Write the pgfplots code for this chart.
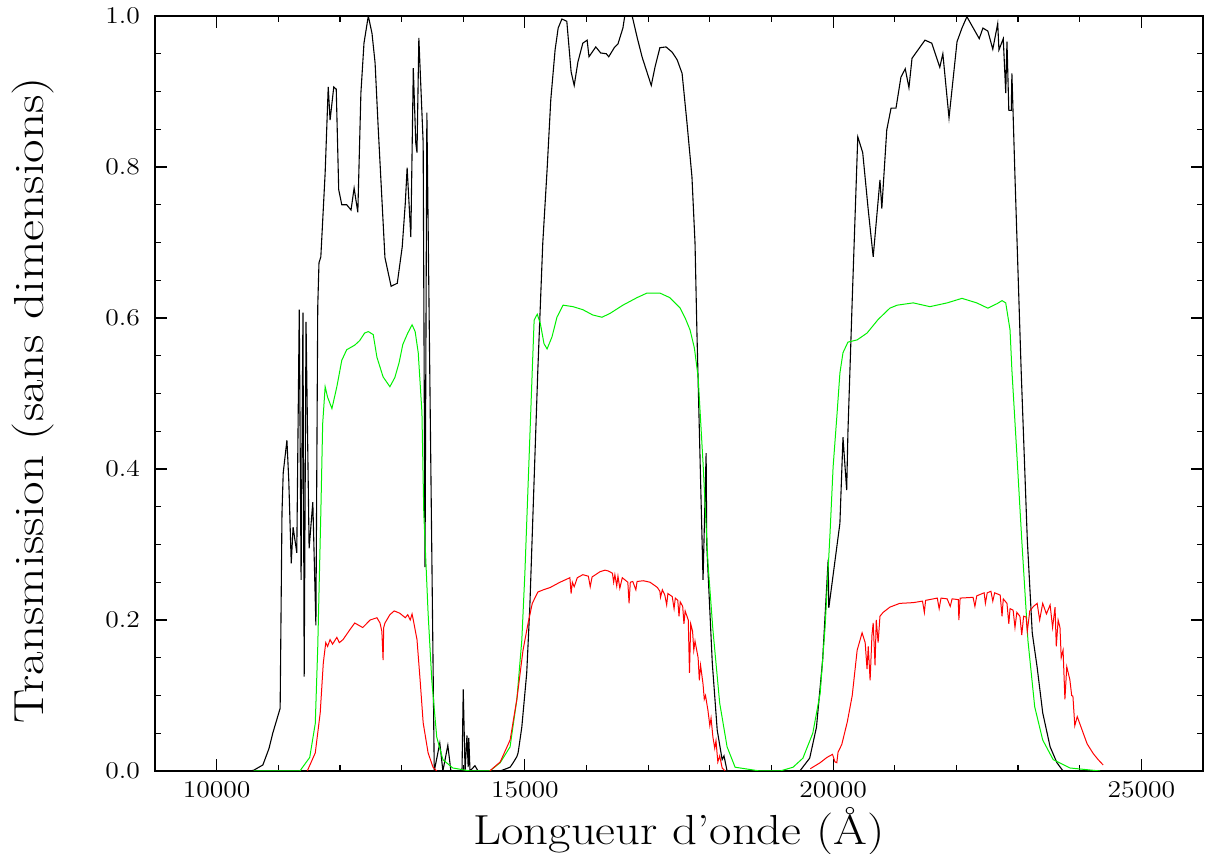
\documentclass[border=0pt]{standalone}
\usepackage{graphicx}
\usepackage{pgfplots}
\pgfplotsset{compat=1.18}
\definecolor{cgreen}{RGB}{0,240,0}
\definecolor{cred}{RGB}{255,0,0}
\begin{document}
\begin{tikzpicture}
\begin{axis}[
  scale only axis, width=524pt, height=377.5pt,
  xmin=9000, xmax=26000, ymin=0, ymax=1,
  xtick={10000,15000,20000,25000}, minor x tick num=4,
  ytick={0,0.2,0.4,0.6,0.8,1.0}, minor y tick num=3,
  scaled x ticks=false, scaled y ticks=false,
  tick align=inside, major tick length=6pt, minor tick length=3pt,
  axis line style={line width=0.75pt},
  every tick/.style={black, line width=0.6pt},
  tick label style={font=\fontsize{11.5}{13}\selectfont},
  xticklabel={\scalebox{1.15}[1]{$\pgfmathprintnumber[1000 sep={}]{\tick}$}},
  yticklabel={\scalebox{1.15}[1]{$\pgfmathprintnumber[fixed,fixed zerofill,precision=1]{\tick}$}},
  xticklabel style={yshift=-2pt},
  yticklabel style={xshift=-4pt},
  label style={font=\fontsize{21}{24}\selectfont},
  xlabel={\scalebox{1.16}[1]{Longueur d'onde (\AA)}},
  ylabel={\scalebox{1.22}[1]{Transmission (sans dimensions)}},
  xlabel style={at={(axis description cs:0.5,-0.0795)}, anchor=center},
  ylabel style={at={(axis description cs:-0.1164,0.491)}, anchor=center},
  clip=true,
]
\coordinate (SW) at (rel axis cs:0,0);
\coordinate (NE) at (rel axis cs:1,1);
% atmospheric transmission (black)
\addplot[black, line width=0.55pt] coordinates {
(10540,0) (10600,0.001) (10750,0.008) (10850,0.03) (10910,0.05) (11030,0.083) (11060,0.342) (11080,0.395) (11140,0.438) (11170,0.385) (11210,0.275) (11240,0.323) (11300,0.289) (11340,0.611) (11370,0.253) (11400,0.607) (11420,0.125) (11450,0.595) (11500,0.295) (11560,0.356) (11610,0.193) (11640,0.615) (11660,0.673) (11690,0.681) (11760,0.792) (11810,0.906) (11840,0.862) (11900,0.906) (11940,0.903) (11980,0.770) (12030,0.750) (12110,0.750) (12180,0.743) (12230,0.772) (12290,0.740) (12340,0.898) (12390,0.964) (12460,1.0) (12520,0.977) (12570,0.938) (12620,0.853) (12730,0.680) (12830,0.642) (12930,0.646) (13010,0.694) (13060,0.752) (13090,0.799) (13150,0.707) (13190,0.931) (13230,0.832) (13250,0.819) (13280,0.971) (13350,0.832) (13380,0.270) (13410,0.872) (13530,0)
(13620,0.037) (13670,0) (13750,0.034) (13800,0) (13980,0) (14000,0.108) (14030,0) (14060,0.047) (14080,0.005) (14090,0.044) (14110,0) (14190,0.007) (14240,0)
(14600,0) (14760,0.005) (14810,0.011) (14870,0.019) (14890,0.024) (14950,0.058) (15030,0.13) (15080,0.217) (15210,0.531) (15290,0.699) (15360,0.796) (15420,0.889) (15490,0.955) (15540,0.984) (15600,0.996) (15680,0.993) (15750,0.926) (15800,0.908) (15860,0.939) (15940,0.964) (16010,0.968) (16040,0.946) (16150,0.959) (16230,0.951) (16320,0.950) (16360,0.946) (16450,0.958) (16510,0.963) (16590,0.984) (16620,1.0) (16740,1.0) (16820,0.972) (16900,0.946) (17050,0.908) (17110,0.932) (17190,0.958) (17290,0.959) (17390,0.952) (17470,0.942) (17550,0.924) (17630,0.858) (17710,0.787) (17760,0.699) (17790,0.584) (17890,0.253) (17940,0.421) (17950,0.30) (18040,0.143) (18120,0.054) (18200,0.015) (18230,0.02) (18280,0)
(19460,0) (19620,0.017) (19730,0.058) (19830,0.147) (19920,0.280) (19930,0.216) (20110,0.328) (20160,0.442) (20220,0.372) (20240,0.448) (20310,0.624) (20400,0.840) (20480,0.819) (20570,0.743) (20650,0.681) (20760,0.783) (20790,0.745) (20870,0.849) (20940,0.878) (21020,0.878) (21100,0.919) (21170,0.930) (21230,0.905) (21280,0.944) (21490,0.968) (21600,0.964) (21730,0.932) (21780,0.950) (21880,0.865) (22010,0.966) (22090,0.984) (22170,0.999) (22370,0.970) (22430,0.984) (22510,0.980) (22590,0.956) (22670,0.990) (22690,0.955) (22760,0.970) (22800,0.898) (22820,0.966) (22850,0.875) (22890,0.875) (22900,0.924) (22950,0.787) (23050,0.531) (23150,0.306) (23230,0.183) (23310,0.137) (23400,0.077) (23520,0.032) (23630,0.011) (23730,0)
};
% filter (green)
\addplot[cgreen, line width=0.5pt] coordinates {
(10600,0) (11350,0) (11510,0.018) (11600,0.063) (11640,0.164) (11690,0.342) (11720,0.46) (11760,0.509) (11800,0.495) (11870,0.480) (11950,0.509) (12030,0.544) (12110,0.558) (12240,0.564) (12320,0.570) (12400,0.580) (12460,0.582) (12540,0.578) (12600,0.548) (12700,0.522) (12810,0.509) (12890,0.521) (12960,0.541) (13020,0.565) (13100,0.580) (13170,0.591) (13220,0.582) (13270,0.554) (13330,0.475) (13360,0.342) (13430,0.209) (13490,0.120) (13570,0.045) (13670,0.015) (13830,0.004) (14110,0)
(14430,0) (14600,0.011) (14760,0.032) (14870,0.095) (14950,0.173) (15000,0.262) (15120,0.531) (15150,0.597) (15200,0.605) (15250,0.593) (15310,0.566) (15360,0.559) (15440,0.575) (15520,0.601) (15620,0.617) (15780,0.615) (15940,0.611) (16100,0.604) (16250,0.601) (16380,0.606) (16590,0.617) (16820,0.627) (16980,0.633) (17190,0.633) (17350,0.627) (17520,0.613) (17600,0.600) (17680,0.584) (17750,0.560) (17810,0.522) (17890,0.408) (17970,0.275) (18050,0.187) (18160,0.090) (18280,0.032) (18410,0.005) (18810,0)
(19140,0) (19350,0.005) (19510,0.017) (19670,0.05) (19790,0.103) (19870,0.191) (19950,0.315) (20000,0.403) (20060,0.469) (20110,0.527) (20160,0.554) (20240,0.568) (20390,0.571) (20550,0.580) (20730,0.598) (20920,0.613) (21040,0.617) (21300,0.620) (21570,0.615) (21850,0.620) (22090,0.626) (22330,0.620) (22510,0.613) (22660,0.619) (22740,0.623) (22800,0.620) (22870,0.584) (22900,0.531) (22980,0.420) (23060,0.306) (23160,0.173) (23270,0.085) (23400,0.041) (23570,0.015) (23840,0.004) (24330,0)
};
% detector x filter x atmosphere (red)
\addplot[cred, line width=0.5pt] coordinates {
(11470,0) (11600,0.024) (11680,0.077) (11730,0.143) (11770,0.170) (11800,0.165) (11840,0.174) (11880,0.168) (11950,0.177) (11990,0.170) (12050,0.174) (12160,0.187) (12240,0.196) (12370,0.190) (12490,0.200) (12600,0.203) (12650,0.196) (12680,0.185) (12700,0.147) (12710,0.190) (12730,0.196) (12810,0.207) (12880,0.212) (12970,0.209) (13060,0.203) (13100,0.207) (13140,0.200) (13170,0.208) (13190,0.200) (13250,0.174) (13300,0.121) (13350,0.064) (13430,0.024) (13510,0.005) (13570,0)
};
\addplot[cred, line width=0.5pt] coordinates {
(14430,0) (14600,0.012) (14760,0.041) (14870,0.095) (14970,0.160) (15050,0.195) (15120,0.222) (15210,0.237) (15300,0.240) (15410,0.243) (15500,0.247) (15570,0.250) (15650,0.253) (15730,0.256) (15750,0.235) (15770,0.250) (15800,0.244) (15850,0.256) (15940,0.260) (16030,0.258) (16060,0.244) (16090,0.257) (16220,0.264) (16300,0.266) (16350,0.265) (16420,0.262) (16440,0.250) (16460,0.260) (16490,0.245) (16510,0.258) (16540,0.242) (16580,0.256) (16670,0.250) (16690,0.222) (16710,0.250) (16750,0.251) (16800,0.240) (16820,0.251) (16920,0.252) (17030,0.250) (17100,0.246) (17150,0.243) (17190,0.238) (17200,0.230) (17230,0.240) (17270,0.233) (17300,0.220) (17320,0.235) (17390,0.231) (17420,0.215) (17440,0.229) (17480,0.226) (17500,0.205) (17520,0.224) (17560,0.218) (17580,0.195) (17600,0.212) (17650,0.200) (17670,0.130) (17690,0.195) (17720,0.185) (17740,0.160) (17760,0.172) (17810,0.150) (17830,0.120) (17850,0.140) (17890,0.115) (17910,0.095) (17930,0.100) (17970,0.080) (18000,0.060) (18020,0.070) (18050,0.045) (18080,0.030) (18100,0.040) (18130,0.012) (18160,0.020) (18200,0.004) (18250,0)
};
\addplot[cred, line width=0.5pt] coordinates {
(19630,0.003) (19790,0.011) (19900,0.018) (19990,0.022) (20030,0.012) (20060,0.011) (20080,0.025) (20140,0.035) (20230,0.065) (20310,0.100) (20390,0.160) (20470,0.183) (20520,0.170) (20550,0.135) (20570,0.165) (20600,0.120) (20630,0.180) (20650,0.196) (20680,0.140) (20700,0.200) (20730,0.170) (20760,0.205) (20810,0.210) (20920,0.217) (21080,0.222) (21300,0.223) (21450,0.225) (21480,0.210) (21500,0.226) (21690,0.229) (21720,0.215) (21750,0.229) (21850,0.228) (21900,0.218) (21930,0.228) (22030,0.227) (22040,0.200) (22060,0.229) (22270,0.230) (22300,0.218) (22330,0.232) (22450,0.236) (22470,0.222) (22500,0.236) (22560,0.238) (22590,0.225) (22620,0.236) (22710,0.233) (22740,0.205) (22760,0.228) (22820,0.222) (22850,0.195) (22870,0.215) (22920,0.213) (22950,0.190) (22980,0.210) (23030,0.205) (23060,0.180) (23090,0.205) (23130,0.204) (23150,0.185) (23190,0.212) (23250,0.218) (23310,0.222) (23350,0.200) (23400,0.222) (23460,0.208) (23520,0.220) (23560,0.190) (23600,0.217) (23620,0.165) (23650,0.200) (23680,0.190) (23700,0.150) (23730,0.160) (23760,0.095) (23790,0.138) (23840,0.121) (23870,0.100) (23890,0.099) (23920,0.060) (23960,0.072) (24040,0.054) (24120,0.036) (24220,0.023) (24300,0.015) (24380,0.008)
};
\end{axis}
\pgfresetboundingbox
\path ([xshift=-77.5pt,yshift=-41.5pt]SW) rectangle ([xshift=1pt,yshift=8pt]NE);
\end{tikzpicture}
\end{document}
